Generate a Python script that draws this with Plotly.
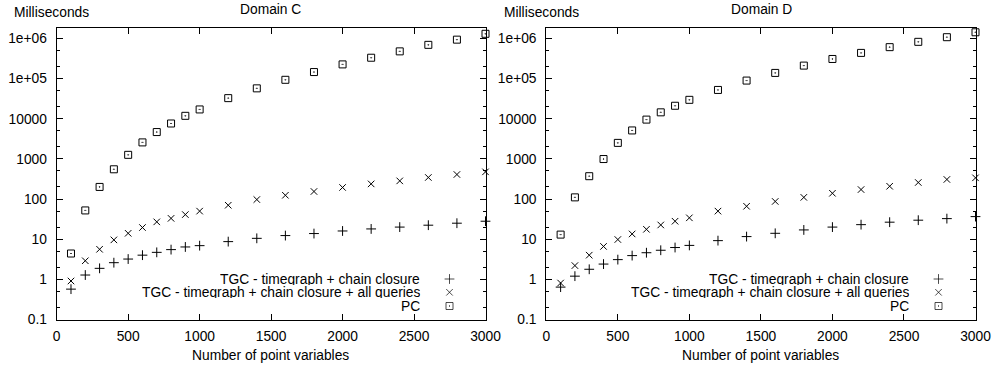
import plotly.graph_objects as go

# ---------------- data ----------------
n_vars = [100, 200, 300, 400, 500, 600, 700, 800, 900, 1000,
          1200, 1400, 1600, 1800, 2000, 2200, 2400, 2600, 2800, 3000]

c_tgc = [0.57, 1.28, 1.88, 2.6, 3.2, 4.0, 4.7, 5.5, 6.4, 6.9,
         8.7, 10.5, 12.3, 13.8, 16, 18, 20, 22.3, 25, 28]
c_tgc_all = [0.91, 2.9, 5.6, 9.6, 14, 19.5, 27, 33, 41, 50,
             70, 97, 124, 154, 194, 238, 283, 344, 408, 475]
c_pc = [4.4, 52, 200, 550, 1260, 2570, 4650, 7600, 11800, 17000,
        32500, 57000, 93000, 145000, 225000, 330000, 475000, 690000, 930000, 1300000]

d_tgc = [0.64, 1.2, 1.78, 2.4, 3.1, 3.9, 4.6, 5.3, 6.2, 7.0,
         9.2, 11.6, 14, 17, 20, 23, 26.5, 29.7, 32.5, 36.5]
d_tgc_all = [0.81, 2.2, 4.0, 6.6, 9.8, 13.5, 17.6, 22.6, 28, 34,
             50, 66, 87, 110, 139, 172, 208, 258, 307, 337]
d_pc = [13, 110, 370, 990, 2500, 5100, 9500, 14400, 21000, 29500,
        52000, 89000, 138000, 210000, 307000, 435000, 605000, 820000, 1070000, 1420000]

series_names = ["TGC - timegraph + chain closure",
                "TGC - timegraph + chain closure + all queries",
                "PC"]
panel_titles = ["Domain C", "Domain D"]
y_tickvals = [0.1, 1, 10, 100, 1000, 10000, 1e5, 1e6]
y_ticktext = ["0.1", "1", "10", "100", "1000", "10000", "1e+05", "1e+06"]
x_tickvals = [0, 500, 1000, 1500, 2000, 2500, 3000]

# ---------------- layout constants ----------------
W, H = 994, 370
FONT = "Liberation Sans, Arial, Helvetica, sans-serif"
FS = 13.8
symbols = ["cross-thin-open", "x-thin-open", "square-open-dot"]
sizes = [7, 6.5, 7]

def px(x):
    return x / W

def py(y):
    return 1 - y / H

dom_y = [py(319.5), py(27.7)]
dom_x = [[px(56.7), px(485.5)], [px(546.3), px(975.5)]]

fig = go.Figure()

panels = [(c_tgc, c_tgc_all, c_pc), (d_tgc, d_tgc_all, d_pc)]
for i, vals in enumerate(panels):
    xa = "x" if i == 0 else "x2"
    ya = "y" if i == 0 else "y2"
    for j, v in enumerate(vals):
        fig.add_trace(go.Scatter(
            x=n_vars, y=v, mode="markers", name=series_names[j],
            xaxis=xa, yaxis=ya, showlegend=False, cliponaxis=False,
            marker=dict(symbol=symbols[j], size=sizes[j], color="black",
                        line=dict(width=1, color="black"))))

axis_common = dict(showline=True, linecolor="black", linewidth=1, mirror="ticks",
                   ticks="inside", ticklen=6, tickwidth=1, tickcolor="black",
                   showgrid=False, zeroline=False,
                   tickfont=dict(family=FONT, size=FS, color="black"))

for i in range(2):
    sx = "" if i == 0 else "2"
    fig.update_layout(**{
        "xaxis" + sx: dict(axis_common, domain=dom_x[i], range=[0, 3000],
                           tickvals=x_tickvals, anchor="y" + sx,
                           ticklabelstandoff=4),
        "yaxis" + sx: dict(axis_common, domain=dom_y, type="log",
                           range=[-1, 6.266], tickvals=y_tickvals,
                           ticktext=y_ticktext, anchor="x" + sx,
                           ticklabelstandoff=6,
                           minor=dict(ticks="inside", ticklen=3, tickwidth=1,
                                      tickcolor="black", dtick="D2",
                                      showgrid=False)),
    })

# legend keys on hidden overlay axes (0..1 in page fraction)
key_y = [py(279), py(292.3), py(306)]
key_x_pix = [449.5, 938.5]
text_x_pix = [421, 910]

annotations = []
for i in range(2):
    for j in range(3):
        annotations.append(dict(
            x=px(text_x_pix[i]), y=key_y[j], xref="paper", yref="paper",
            xanchor="right", yanchor="middle", showarrow=False,
            height=12, valign="middle", borderpad=0,
            text=series_names[j], font=dict(family=FONT, size=FS, color="black")))
    fig.add_trace(go.Scatter(
        x=[px(key_x_pix[i])] * 3, y=key_y, mode="markers",
        xaxis="x3", yaxis="y3", showlegend=False, cliponaxis=False, hoverinfo="skip",
        marker=dict(symbol=symbols, size=sizes, color="black",
                    line=dict(width=1, color="black"))))
    cx = [270.8, 761][i]
    annotations.append(dict(x=px(cx), y=py(9.5), xref="paper", yref="paper",
                            xanchor="center", yanchor="middle", showarrow=False,
                            text=panel_titles[i],
                            font=dict(family=FONT, size=FS, color="black")))
    annotations.append(dict(x=px([11.5, 501.5][i]), y=py(13), xref="paper", yref="paper",
                            xanchor="left", yanchor="middle", showarrow=False,
                            text="Milliseconds",
                            font=dict(family=FONT, size=FS, color="black")))
    annotations.append(dict(x=px([270.5, 760.5][i]), y=py(355), xref="paper", yref="paper",
                            xanchor="center", yanchor="middle", showarrow=False,
                            text="Number of point variables",
                            font=dict(family=FONT, size=FS, color="black")))

fig.update_layout(
    xaxis3=dict(domain=[0, 1], range=[0, 1], visible=False, anchor="y3"),
    yaxis3=dict(domain=[0, 1], range=[0, 1], visible=False, anchor="x3"),
    annotations=annotations,
    width=W, height=H,
    margin=dict(l=0, r=0, t=0, b=0, autoexpand=False),
    paper_bgcolor="white", plot_bgcolor="rgba(0,0,0,0)",
    showlegend=False,
)

fig.write_html("out.html", config={"displayModeBar": False},
               post_script="document.body.style.margin='0';document.body.style.overflow='hidden';")
